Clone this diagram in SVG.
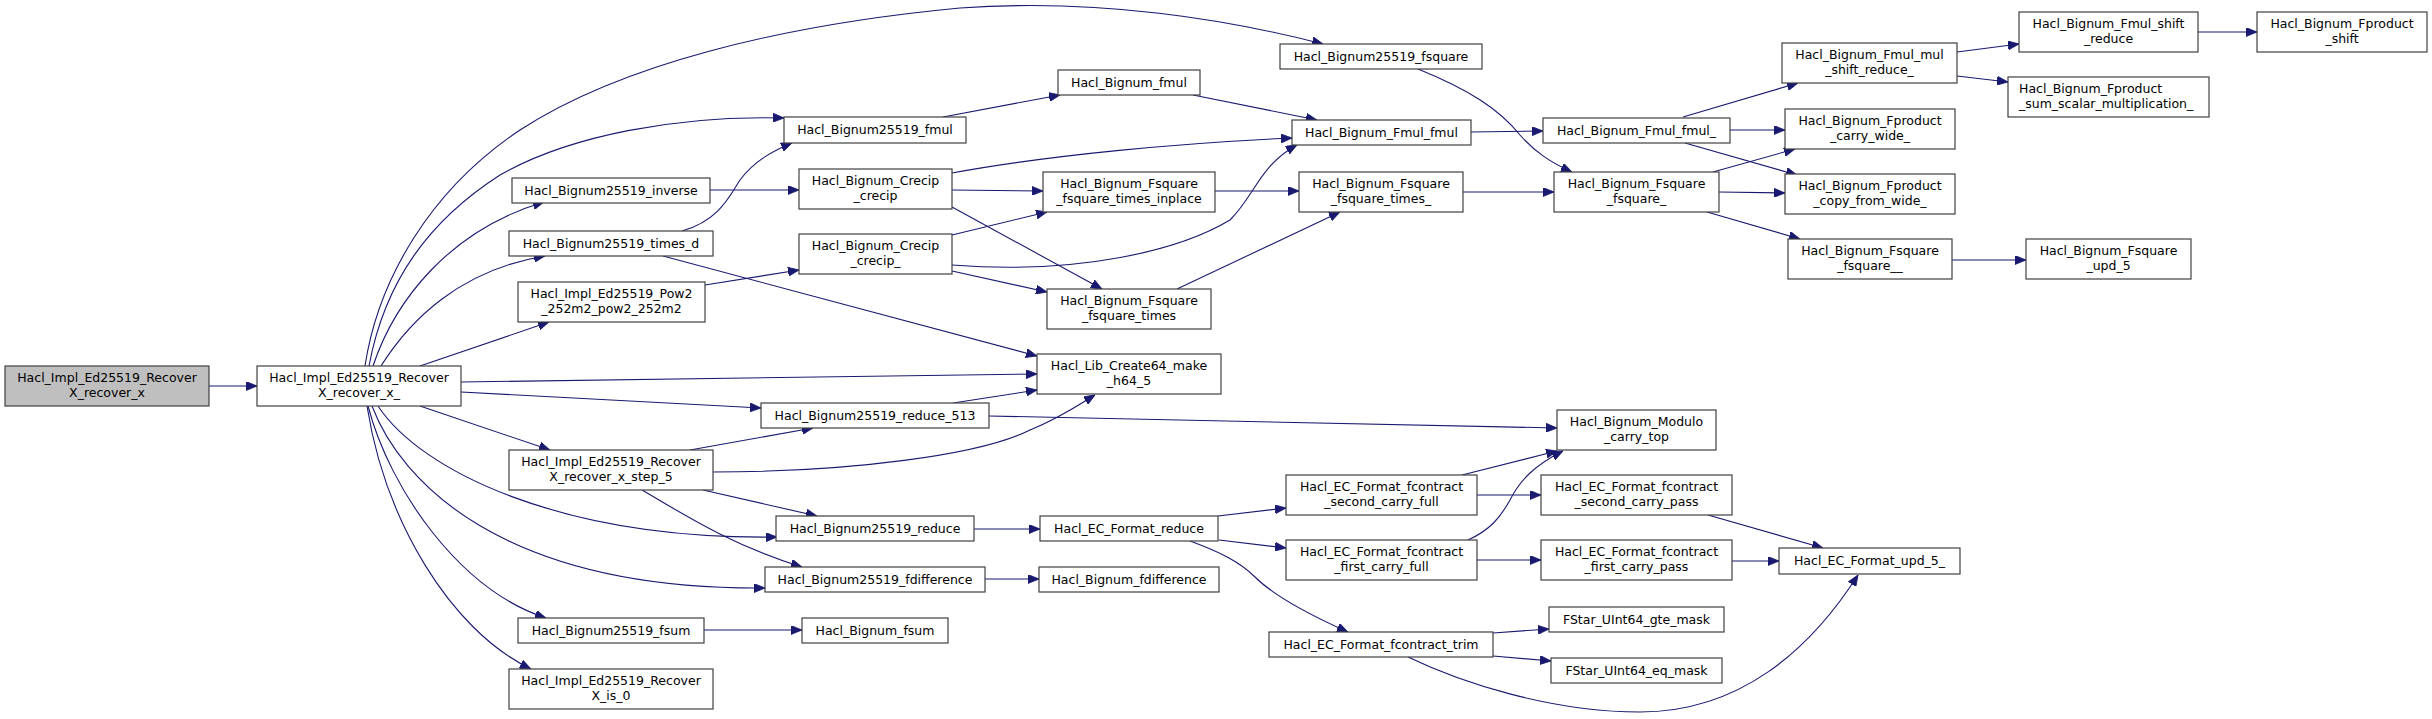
<svg xmlns="http://www.w3.org/2000/svg" width="2432" height="719" viewBox="0 0 2432 719">
<style>
.n rect{fill:#ffffff;stroke:#404040;stroke-width:1.2}
.n.root rect{fill:#bfbfbf}
.n text{font-family:"DejaVu Sans",Verdana,sans-serif;font-size:12.5px;text-anchor:middle;fill:#000}
.n text.l{text-anchor:start}
#edges path{fill:none;stroke:#191970;stroke-width:1.1;marker-end:url(#arr)}
</style>
<defs>
<marker id="arr" markerUnits="userSpaceOnUse" viewBox="0 0 11 9" refX="11" refY="4.5" markerWidth="11" markerHeight="9" orient="auto">
<path d="M0,0 L11,4.5 L0,9 z" fill="#191970" stroke="#191970" stroke-width="0.8"/>
</marker>
</defs>
<rect width="2432" height="719" fill="#ffffff"/>
<g id="edges">
<path d="M209,386 L257,386"/>
<path d="M365,366 C378,280 430,190 520,130 C620,65 780,25 960,8 C1100,-2 1230,20 1323,44"/>
<path d="M369,366 C385,280 430,220 500,175 C570,135 680,115 784,118"/>
<path d="M373,366 C395,300 450,230 544,202"/>
<path d="M381,366 C410,320 460,270 545,256"/>
<path d="M420,366 L549,322"/>
<path d="M461,382 L1037,374"/>
<path d="M461,392 L761,408"/>
<path d="M420,406 L550,450"/>
<path d="M378,406 C420,470 560,540 777,537"/>
<path d="M372,406 C400,480 500,590 765,588"/>
<path d="M368,406 C390,490 460,590 546,618"/>
<path d="M367,406 C385,520 450,630 531,669"/>
<path d="M710,190 L799,190"/>
<path d="M682,231 C720,220 730,195 740,180 C755,160 775,150 792,143"/>
<path d="M663,256 L1037,356"/>
<path d="M705,285 L799,270"/>
<path d="M943,117 L1060,95"/>
<path d="M952,173 C1050,155 1180,143 1292,138"/>
<path d="M952,190 L1043,191"/>
<path d="M952,207 L1102,289"/>
<path d="M952,235 L1047,212"/>
<path d="M952,265 C1080,275 1180,250 1230,220 C1255,195 1260,165 1297,145"/>
<path d="M952,271 L1047,292"/>
<path d="M1215,191 L1299,191"/>
<path d="M1177,289 L1340,212"/>
<path d="M1193,95 L1317,120"/>
<path d="M1418,69 C1470,90 1500,110 1520,135 C1535,152 1550,162 1572,172"/>
<path d="M1471,132 L1543,131"/>
<path d="M1463,192 L1554,192"/>
<path d="M1683,117 L1798,83"/>
<path d="M1730,130 L1785,130"/>
<path d="M1685,143 L1797,175"/>
<path d="M1713,172 L1795,149"/>
<path d="M1719,192 L1785,193"/>
<path d="M1707,212 L1800,239"/>
<path d="M1957,52 L2019,44"/>
<path d="M1957,76 L2008,82"/>
<path d="M2198,32 L2257,32"/>
<path d="M1952,260 L2026,260"/>
<path d="M953,403 L1037,390"/>
<path d="M713,472 C850,472 980,455 1030,430 C1060,418 1080,404 1095,395"/>
<path d="M690,450 L813,428"/>
<path d="M989,416 L1557,428"/>
<path d="M703,490 L817,516"/>
<path d="M642,490 C680,512 730,545 802,567"/>
<path d="M974,529 L1040,529"/>
<path d="M985,579 L1039,579"/>
<path d="M704,630 L802,630"/>
<path d="M1218,516 L1286,508"/>
<path d="M1219,540 L1286,548"/>
<path d="M1190,541 C1220,552 1240,562 1255,577 C1275,597 1310,615 1348,632"/>
<path d="M1462,475 L1557,451"/>
<path d="M1468,540 C1490,530 1500,518 1510,500 C1520,480 1535,465 1563,451"/>
<path d="M1477,495 L1541,495"/>
<path d="M1477,560 L1541,560"/>
<path d="M1708,515 L1823,548"/>
<path d="M1732,561 L1779,561"/>
<path d="M1493,633 L1549,629"/>
<path d="M1493,656 L1551,661"/>
<path d="M1408,657 C1460,682 1550,712 1640,712 C1740,712 1810,650 1858,575"/>
</g>
<g id="n0" class="n root"><rect x="5" y="366" width="204" height="40"/><text x="107" y="382">Hacl_Impl_Ed25519_Recover</text><text x="107" y="397">X_recover_x</text></g>
<g id="n1" class="n"><rect x="257" y="366" width="204" height="40"/><text x="359" y="382">Hacl_Impl_Ed25519_Recover</text><text x="359" y="397">X_recover_x_</text></g>
<g id="n2" class="n"><rect x="1280" y="44" width="202" height="25"/><text x="1381" y="61">Hacl_Bignum25519_fsquare</text></g>
<g id="n3" class="n"><rect x="784" y="117" width="182" height="26"/><text x="875" y="134">Hacl_Bignum25519_fmul</text></g>
<g id="n4" class="n"><rect x="512" y="178" width="198" height="25"/><text x="611" y="195">Hacl_Bignum25519_inverse</text></g>
<g id="n5" class="n"><rect x="509" y="231" width="204" height="25"/><text x="611" y="248">Hacl_Bignum25519_times_d</text></g>
<g id="n6" class="n"><rect x="518" y="282" width="187" height="40"/><text x="611.5" y="298">Hacl_Impl_Ed25519_Pow2</text><text x="611.5" y="313">_252m2_pow2_252m2</text></g>
<g id="n7" class="n"><rect x="1037" y="354" width="184" height="40"/><text x="1129" y="370">Hacl_Lib_Create64_make</text><text x="1129" y="385">_h64_5</text></g>
<g id="n8" class="n"><rect x="761" y="403" width="228" height="25"/><text x="875" y="420">Hacl_Bignum25519_reduce_513</text></g>
<g id="n9" class="n"><rect x="509" y="450" width="204" height="40"/><text x="611" y="466">Hacl_Impl_Ed25519_Recover</text><text x="611" y="481">X_recover_x_step_5</text></g>
<g id="n10" class="n"><rect x="776" y="516" width="198" height="25"/><text x="875" y="533">Hacl_Bignum25519_reduce</text></g>
<g id="n11" class="n"><rect x="765" y="567" width="220" height="25"/><text x="875" y="584">Hacl_Bignum25519_fdifference</text></g>
<g id="n12" class="n"><rect x="518" y="618" width="186" height="25"/><text x="611" y="635">Hacl_Bignum25519_fsum</text></g>
<g id="n13" class="n"><rect x="509" y="669" width="204" height="40"/><text x="611" y="685">Hacl_Impl_Ed25519_Recover</text><text x="611" y="700">X_is_0</text></g>
<g id="n14" class="n"><rect x="799" y="169" width="153" height="40"/><text x="875.5" y="185">Hacl_Bignum_Crecip</text><text x="875.5" y="200">_crecip</text></g>
<g id="n15" class="n"><rect x="799" y="234" width="153" height="40"/><text x="875.5" y="250">Hacl_Bignum_Crecip</text><text x="875.5" y="265">_crecip_</text></g>
<g id="n16" class="n"><rect x="1058" y="70" width="142" height="25"/><text x="1129" y="87">Hacl_Bignum_fmul</text></g>
<g id="n17" class="n"><rect x="1292" y="120" width="179" height="25"/><text x="1381.5" y="137">Hacl_Bignum_Fmul_fmul</text></g>
<g id="n18" class="n"><rect x="1043" y="172" width="172" height="40"/><text x="1129" y="188">Hacl_Bignum_Fsquare</text><text x="1129" y="203">_fsquare_times_inplace</text></g>
<g id="n19" class="n"><rect x="1047" y="289" width="164" height="40"/><text x="1129" y="305">Hacl_Bignum_Fsquare</text><text x="1129" y="320">_fsquare_times</text></g>
<g id="n20" class="n"><rect x="1299" y="172" width="164" height="40"/><text x="1381" y="188">Hacl_Bignum_Fsquare</text><text x="1381" y="203">_fsquare_times_</text></g>
<g id="n21" class="n"><rect x="1040" y="516" width="178" height="25"/><text x="1129" y="533">Hacl_EC_Format_reduce</text></g>
<g id="n22" class="n"><rect x="1039" y="567" width="180" height="25"/><text x="1129" y="584">Hacl_Bignum_fdifference</text></g>
<g id="n23" class="n"><rect x="802" y="618" width="146" height="25"/><text x="875" y="635">Hacl_Bignum_fsum</text></g>
<g id="n24" class="n"><rect x="1286" y="475" width="191" height="40"/><text x="1381.5" y="491">Hacl_EC_Format_fcontract</text><text x="1381.5" y="506">_second_carry_full</text></g>
<g id="n25" class="n"><rect x="1286" y="540" width="191" height="40"/><text x="1381.5" y="556">Hacl_EC_Format_fcontract</text><text x="1381.5" y="571">_first_carry_full</text></g>
<g id="n26" class="n"><rect x="1269" y="632" width="224" height="25"/><text x="1381" y="649">Hacl_EC_Format_fcontract_trim</text></g>
<g id="n27" class="n"><rect x="1543" y="118" width="187" height="25"/><text x="1636.5" y="135">Hacl_Bignum_Fmul_fmul_</text></g>
<g id="n28" class="n"><rect x="1554" y="172" width="165" height="40"/><text x="1636.5" y="188">Hacl_Bignum_Fsquare</text><text x="1636.5" y="203">_fsquare_</text></g>
<g id="n29" class="n"><rect x="1782" y="43" width="175" height="40"/><text x="1869.5" y="59">Hacl_Bignum_Fmul_mul</text><text x="1869.5" y="74">_shift_reduce_</text></g>
<g id="n30" class="n"><rect x="1785" y="109" width="170" height="40"/><text x="1870" y="125">Hacl_Bignum_Fproduct</text><text x="1870" y="140">_carry_wide_</text></g>
<g id="n31" class="n"><rect x="1785" y="174" width="170" height="40"/><text x="1870" y="190">Hacl_Bignum_Fproduct</text><text x="1870" y="205">_copy_from_wide_</text></g>
<g id="n32" class="n"><rect x="1788" y="239" width="164" height="40"/><text x="1870" y="255">Hacl_Bignum_Fsquare</text><text x="1870" y="270">_fsquare__</text></g>
<g id="n33" class="n"><rect x="2019" y="12" width="179" height="40"/><text x="2108.5" y="28">Hacl_Bignum_Fmul_shift</text><text x="2108.5" y="43">_reduce</text></g>
<g id="n34" class="n"><rect x="2257" y="12" width="170" height="40"/><text x="2342" y="28">Hacl_Bignum_Fproduct</text><text x="2342" y="43">_shift</text></g>
<g id="n35" class="n"><rect x="2008" y="77" width="201" height="40"/><text class="l" x="2019" y="93">Hacl_Bignum_Fproduct</text><text class="l" x="2019" y="108">_sum_scalar_multiplication_</text></g>
<g id="n36" class="n"><rect x="2026" y="239" width="165" height="40"/><text x="2108.5" y="255">Hacl_Bignum_Fsquare</text><text x="2108.5" y="270">_upd_5</text></g>
<g id="n37" class="n"><rect x="1557" y="410" width="159" height="40"/><text x="1636.5" y="426">Hacl_Bignum_Modulo</text><text x="1636.5" y="441">_carry_top</text></g>
<g id="n38" class="n"><rect x="1541" y="475" width="191" height="40"/><text x="1636.5" y="491">Hacl_EC_Format_fcontract</text><text x="1636.5" y="506">_second_carry_pass</text></g>
<g id="n39" class="n"><rect x="1541" y="540" width="191" height="40"/><text x="1636.5" y="556">Hacl_EC_Format_fcontract</text><text x="1636.5" y="571">_first_carry_pass</text></g>
<g id="n40" class="n"><rect x="1779" y="548" width="181" height="26"/><text x="1869.5" y="565">Hacl_EC_Format_upd_5_</text></g>
<g id="n41" class="n"><rect x="1549" y="607" width="175" height="25"/><text x="1636.5" y="624">FStar_UInt64_gte_mask</text></g>
<g id="n42" class="n"><rect x="1551" y="658" width="171" height="25"/><text x="1636.5" y="675">FStar_UInt64_eq_mask</text></g>
</svg>
